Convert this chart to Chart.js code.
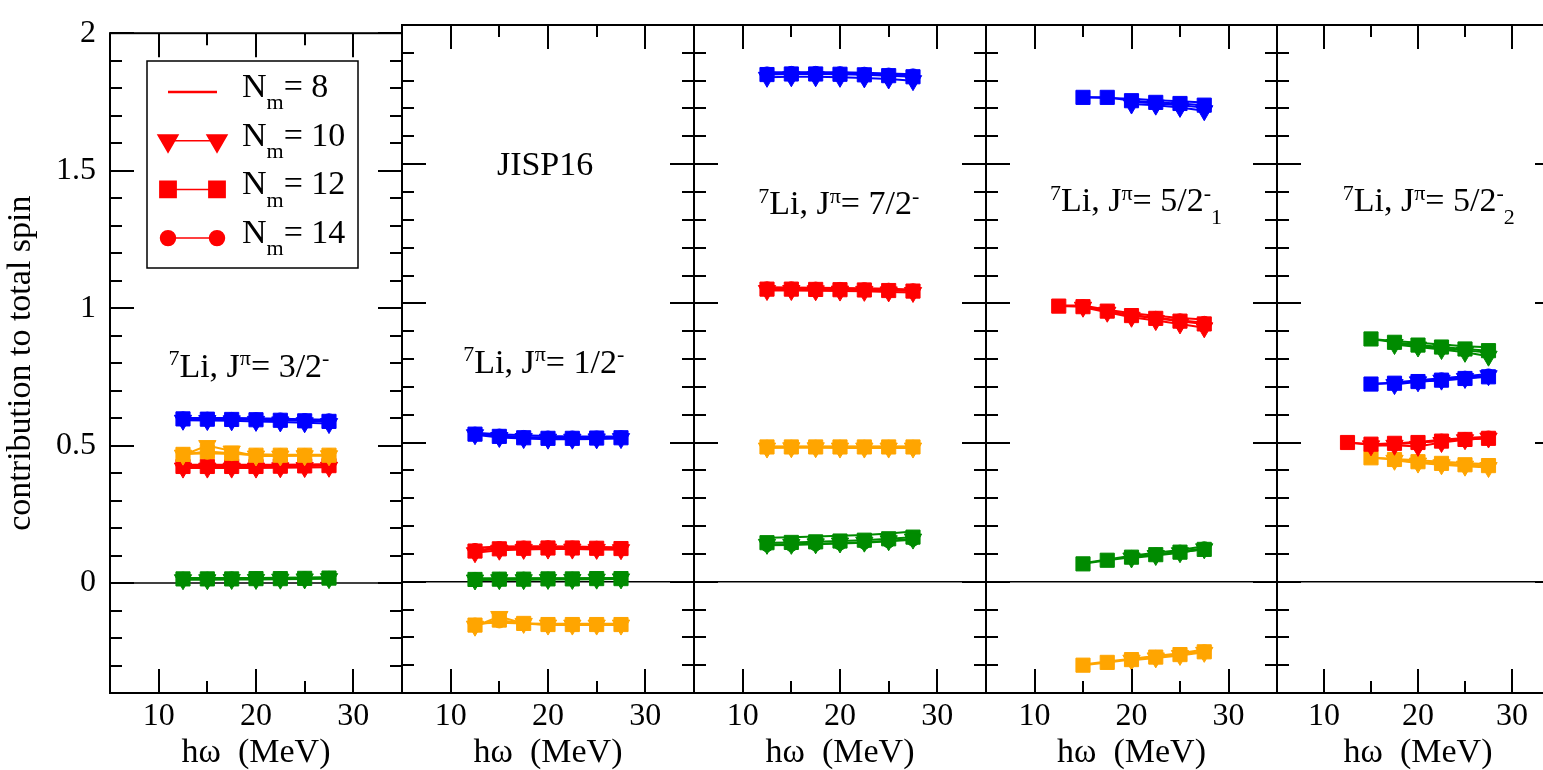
<!DOCTYPE html>
<html>
<head>
<meta charset="utf-8">
<script src="https://cdn.jsdelivr.net/npm/chart.js@4.4.0/dist/chart.umd.min.js"></script>
<style>
  html, body { margin: 0; padding: 0; background: #fff; overflow: hidden; }
  #wrap { position: relative; width: 1543px; height: 770px; overflow: hidden; }
  #wrap canvas { position: absolute; top: 0; }
</style>
</head>
<body>
<div id="wrap"></div>
<script>
// hbar*omega values (MeV) and basis truncations
const hw = [12.5, 15, 17.5, 20, 22.5, 25, 27.5];
const nmaxList = [8, 10, 12, 14];

const xTicks = [10, 20, 30];
const xMinorTicks = [5, 15, 25, 35];
const yTicks = [0, 0.5, 1, 1.5, 2];
const yMinorTicks = [-0.3, -0.2, -0.1, 0.1, 0.2, 0.3, 0.4, 0.6, 0.7, 0.8, 0.9,
                     1.1, 1.2, 1.3, 1.4, 1.6, 1.7, 1.8, 1.9];

// each array: rows = Nm 8, 10, 12, 14 ; columns = hw
// 7Li 3/2-
const p1Blue = [
  [0.600, 0.600, 0.600, 0.599, 0.598, 0.596, 0.594],
  [0.592, 0.591, 0.590, 0.588, 0.586, 0.583, 0.580],
  [0.597, 0.596, 0.595, 0.594, 0.592, 0.590, 0.588],
  [0.599, 0.598, 0.597, 0.596, 0.595, 0.593, 0.592]
];
const p1Red = [
  [0.430, 0.430, 0.430, 0.430, 0.430, 0.431, 0.432],
  [0.418, 0.418, 0.418, 0.418, 0.419, 0.420, 0.421],
  [0.424, 0.424, 0.424, 0.424, 0.425, 0.426, 0.427],
  [0.427, 0.427, 0.427, 0.427, 0.428, 0.429, 0.430]
];
const p1Orange = [
  [0.470, 0.472, 0.470, 0.468, 0.467, 0.467, 0.467],
  [0.465, 0.500, 0.480, 0.462, 0.462, 0.463, 0.463],
  [0.468, 0.478, 0.472, 0.465, 0.465, 0.465, 0.465],
  [0.469, 0.474, 0.470, 0.466, 0.466, 0.466, 0.466]
];
const p1Green = [
  [0.018, 0.018, 0.018, 0.018, 0.019, 0.020, 0.021],
  [0.012, 0.012, 0.013, 0.013, 0.014, 0.015, 0.016],
  [0.015, 0.015, 0.015, 0.016, 0.016, 0.017, 0.018],
  [0.016, 0.016, 0.017, 0.017, 0.018, 0.018, 0.019]
];

// 7Li 1/2-
const p2Blue = [
  [0.535, 0.530, 0.526, 0.523, 0.522, 0.522, 0.522],
  [0.528, 0.518, 0.514, 0.512, 0.512, 0.513, 0.514],
  [0.530, 0.522, 0.517, 0.515, 0.515, 0.516, 0.517],
  [0.532, 0.525, 0.520, 0.518, 0.518, 0.518, 0.519]
];
const p2Red = [
  [0.122, 0.126, 0.127, 0.127, 0.126, 0.125, 0.124],
  [0.104, 0.113, 0.116, 0.117, 0.117, 0.116, 0.115],
  [0.110, 0.118, 0.120, 0.121, 0.121, 0.120, 0.119],
  [0.114, 0.121, 0.123, 0.124, 0.123, 0.122, 0.121]
];
const p2Orange = [
  [-0.150, -0.148, -0.150, -0.151, -0.151, -0.151, -0.151],
  [-0.160, -0.125, -0.150, -0.156, -0.156, -0.156, -0.156],
  [-0.156, -0.138, -0.150, -0.154, -0.154, -0.154, -0.154],
  [-0.154, -0.143, -0.151, -0.153, -0.153, -0.153, -0.153]
];
const p2Green = [
  [0.012, 0.012, 0.012, 0.012, 0.012, 0.012, 0.013],
  [0.006, 0.007, 0.007, 0.008, 0.008, 0.009, 0.010],
  [0.008, 0.009, 0.009, 0.010, 0.010, 0.011, 0.011],
  [0.010, 0.010, 0.011, 0.011, 0.011, 0.012, 0.012]
];

// 7Li 7/2-
const p3Blue = [
  [1.830, 1.830, 1.830, 1.830, 1.828, 1.826, 1.823],
  [1.812, 1.814, 1.814, 1.812, 1.810, 1.806, 1.800],
  [1.822, 1.824, 1.824, 1.823, 1.821, 1.818, 1.814],
  [1.826, 1.828, 1.828, 1.827, 1.825, 1.822, 1.819]
];
const p3Red = [
  [1.058, 1.057, 1.056, 1.055, 1.054, 1.052, 1.050],
  [1.046, 1.046, 1.045, 1.044, 1.043, 1.041, 1.039],
  [1.051, 1.051, 1.050, 1.049, 1.048, 1.046, 1.044],
  [1.054, 1.054, 1.053, 1.052, 1.051, 1.049, 1.047]
];
const p3Orange = [
  [0.486, 0.486, 0.486, 0.486, 0.486, 0.486, 0.486],
  [0.480, 0.481, 0.481, 0.480, 0.480, 0.480, 0.480],
  [0.484, 0.484, 0.484, 0.484, 0.484, 0.484, 0.484],
  [0.485, 0.485, 0.485, 0.485, 0.485, 0.485, 0.485]
];
const p3Green = [
  [0.158, 0.160, 0.162, 0.165, 0.168, 0.173, 0.180],
  [0.134, 0.134, 0.136, 0.139, 0.142, 0.147, 0.153],
  [0.140, 0.141, 0.143, 0.146, 0.149, 0.154, 0.160],
  [0.131, 0.132, 0.134, 0.137, 0.140, 0.145, 0.151]
];

// 7Li 5/2-_1
const p4Blue = [
  [null, 1.740, 1.738, 1.735, 1.730, 1.726, 1.722],
  [null, null, null, 1.716, 1.712, 1.704, 1.692],
  [null, 1.740, 1.740, 1.728, 1.722, 1.718, 1.712],
  [null, null, null, 1.724, 1.718, 1.712, 1.704]
];
const p4Red = [
  [0.992, 0.992, 0.977, 0.964, 0.955, 0.947, 0.942],
  [null, 0.986, 0.968, 0.950, 0.938, 0.926, 0.912],
  [0.990, 0.988, 0.972, 0.956, 0.946, 0.936, 0.926],
  [null, 0.990, 0.972, 0.958, 0.948, 0.939, 0.930]
];
const p4Orange = [
  [null, -0.298, -0.287, -0.277, -0.267, -0.257, -0.244],
  [null, null, null, -0.282, -0.274, -0.265, -0.254],
  [null, -0.300, -0.290, -0.280, -0.271, -0.262, -0.252],
  [null, null, null, -0.279, -0.270, -0.261, -0.250]
];
const p4Green = [
  [null, 0.066, 0.080, 0.093, 0.104, 0.114, 0.127],
  [null, null, null, 0.085, 0.094, 0.104, 0.118],
  [null, 0.064, 0.077, 0.088, 0.097, 0.106, 0.116],
  [null, null, null, 0.089, 0.098, 0.108, 0.120]
];

// 7Li 5/2-_2
const p5Blue = [
  [null, 0.710, 0.716, 0.724, 0.731, 0.738, 0.746],
  [null, null, 0.708, 0.718, 0.724, 0.730, 0.740],
  [null, 0.710, 0.713, 0.719, 0.724, 0.730, 0.736],
  [null, null, 0.711, 0.721, 0.727, 0.733, 0.741]
];
const p5Red = [
  [0.500, 0.492, 0.496, 0.502, 0.510, 0.516, 0.521],
  [null, 0.488, 0.490, 0.486, 0.500, 0.510, 0.516],
  [0.500, 0.494, 0.497, 0.500, 0.505, 0.511, 0.515],
  [null, 0.491, 0.494, 0.499, 0.507, 0.513, 0.518]
];
const p5Orange = [
  [null, 0.446, 0.441, 0.436, 0.431, 0.426, 0.422],
  [null, null, 0.436, 0.426, 0.420, 0.415, 0.410],
  [null, 0.445, 0.439, 0.431, 0.425, 0.420, 0.417],
  [null, null, 0.437, 0.429, 0.423, 0.418, 0.414]
];
const p5Green = [
  [null, 0.872, 0.865, 0.858, 0.852, 0.846, 0.842],
  [null, null, 0.852, 0.843, 0.834, 0.824, 0.810],
  [null, 0.872, 0.860, 0.850, 0.843, 0.836, 0.830],
  [null, null, 0.856, 0.847, 0.839, 0.831, 0.823]
];

const stateLabels = [
  [{t: '7', sup: 1}, {t: 'Li, J'}, {t: 'π', sup: 1}, {t: '= 3/2'}, {t: '-', sup: 1}],
  [{t: '7', sup: 1}, {t: 'Li, J'}, {t: 'π', sup: 1}, {t: '= 1/2'}, {t: '-', sup: 1}],
  [{t: '7', sup: 1}, {t: 'Li, J'}, {t: 'π', sup: 1}, {t: '= 7/2'}, {t: '-', sup: 1}],
  [{t: '7', sup: 1}, {t: 'Li, J'}, {t: 'π', sup: 1}, {t: '= 5/2'}, {t: '-', sup: 1}, {t: '1', sub: 1}],
  [{t: '7', sup: 1}, {t: 'Li, J'}, {t: 'π', sup: 1}, {t: '= 5/2'}, {t: '-', sup: 1}, {t: '2', sub: 1}]
];

const COLORS = {blue: '#0000ff', red: '#ff0000', orange: '#ffa500', green: '#008b00'};
const FONT = "'Liberation Serif', 'Times New Roman', serif";

const panels = [
  {sets: [['blue', p1Blue], ['orange', p1Orange], ['red', p1Red], ['green', p1Green]], label: [11.0, 0.75]},
  {sets: [['blue', p2Blue], ['red', p2Red], ['green', p2Green], ['orange', p2Orange]], label: [11.3, 0.75]},
  {sets: [['blue', p3Blue], ['red', p3Red], ['orange', p3Orange], ['green', p3Green]], label: [11.6, 1.32]},
  {sets: [['blue', p4Blue], ['red', p4Red], ['green', p4Green], ['orange', p4Orange]], label: [11.6, 1.33]},
  {sets: [['green', p5Green], ['blue', p5Blue], ['red', p5Red], ['orange', p5Orange]], label: [12.0, 1.33]}
];

// layout of the five frames (px)
const panelLeft = [110, 402, 694, 986, 1277];
const panelWidth = [292, 292, 292, 291, 282];

// marker per Nm: line only, down triangle, square, circle
const markStyle = ['circle', 'triangle', 'rect', 'circle'];
const markRadius = [0, 10, 10, 6.5];
const markRotation = [0, 180, 0, 0];
const drawOrder = [3, 0, 1, 2];

function richText(ctx, parts, x, y, size, align) {
  const fontOf = p => ((p.sup || p.sub) ? Math.round(size * 0.65) : size) + 'px ' + FONT;
  const widths = parts.map(p => { ctx.font = fontOf(p); return ctx.measureText(p.t).width; });
  let cx = align === 'center' ? x - widths.reduce((a, b) => a + b, 0) / 2 : x;
  parts.forEach((p, i) => {
    ctx.font = fontOf(p);
    const dy = p.sup ? -0.34 * size : p.sub ? 0.36 * size : 0;
    ctx.fillText(p.t, cx, y + dy);
    cx += widths[i];
  });
}

const framePlugin = {
  id: 'frame',
  beforeDatasetsDraw(chart) {
    const {ctx, chartArea: a, scales: {y}} = chart;
    const y0 = y.getPixelForValue(0);
    ctx.save();
    ctx.strokeStyle = '#000';
    ctx.lineWidth = 1.5;
    ctx.beginPath();
    ctx.moveTo(a.left, y0);
    ctx.lineTo(a.right, y0);
    ctx.stroke();
    ctx.restore();
  },
  afterDatasetsDraw(chart) {
    const {ctx, chartArea: a, scales: {x, y}} = chart;
    ctx.save();
    ctx.strokeStyle = '#000';
    ctx.lineWidth = 2;
    ctx.strokeRect(a.left, a.top, a.right - a.left, a.bottom - a.top);
    ctx.beginPath();
    const xt = (v, len) => {
      const px = Math.round(x.getPixelForValue(v));
      ctx.moveTo(px, a.bottom); ctx.lineTo(px, a.bottom - len);
      ctx.moveTo(px, a.top); ctx.lineTo(px, a.top + len);
    };
    const yt = (v, len) => {
      const py = Math.round(y.getPixelForValue(v));
      ctx.moveTo(a.left, py); ctx.lineTo(a.left + len, py);
      ctx.moveTo(a.right, py); ctx.lineTo(a.right - len, py);
    };
    xTicks.forEach(v => xt(v, 24));
    xMinorTicks.forEach(v => xt(v, 12));
    yTicks.forEach(v => yt(v, 24));
    yMinorTicks.forEach(v => yt(v, 12));
    ctx.stroke();
    ctx.restore();
  },
  afterDraw(chart) {
    const {ctx, scales: {x, y}} = chart;
    const o = chart.options.plugins.frame;
    ctx.save();
    ctx.fillStyle = '#000';
    ctx.textBaseline = 'alphabetic';
    richText(ctx, o.label, x.getPixelForValue(o.labelAt[0]), y.getPixelForValue(o.labelAt[1]), 34, 'left');
    if (o.title) {
      richText(ctx, [{t: o.title}], x.getPixelForValue(19.7), y.getPixelForValue(1.46), 34, 'center');
    }
    if (o.legend) drawLegend(ctx);
    ctx.restore();
  }
};

function drawLegend(ctx) {
  const box = {l: 147, t: 61, r: 358, b: 268};
  ctx.lineWidth = 1.5;
  ctx.strokeStyle = '#000';
  ctx.strokeRect(box.l, box.t, box.r - box.l, box.b - box.t);
  nmaxList.forEach((n, k) => {
    const yy = 92 + k * 48.7;
    ctx.strokeStyle = COLORS.red;
    ctx.fillStyle = COLORS.red;
    ctx.lineWidth = k === 0 ? 2.5 : 1.5;
    ctx.beginPath();
    ctx.moveTo(k === 0 ? 168 : 175, yy);
    ctx.lineTo(k === 0 ? 217 : 210, yy);
    ctx.stroke();
    if (markRadius[k] > 0) {
      const opt = {pointStyle: markStyle[k], radius: markRadius[k] * 1.15, rotation: markRotation[k], borderWidth: 1};
      Chart.helpers.drawPoint(ctx, opt, 168, yy);
      Chart.helpers.drawPoint(ctx, opt, 217, yy);
    }
    ctx.fillStyle = '#000';
    richText(ctx, [{t: 'N'}, {t: 'm', sub: 1}, {t: '= ' + n}], 242, yy + 5, 34, 'left');
  });
}

const wrap = document.getElementById('wrap');

panels.forEach((p, i) => {
  const leftPad = i === 0 ? 110 : 4;
  const width = leftPad + panelWidth[i] + 4;
  const c = document.createElement('canvas');
  c.width = width;
  c.height = 770;
  c.style.left = (panelLeft[i] - leftPad) + 'px';
  c.style.width = width + 'px';
  c.style.height = '770px';
  wrap.appendChild(c);

  const datasets = [];
  p.sets.forEach(([col, rows]) => {
    drawOrder.forEach(k => {
      datasets.push({
        label: col + ' Nm=' + nmaxList[k],
        data: hw.map((h, j) => ({x: h, y: rows[k][j]})),
        borderColor: COLORS[col],
        backgroundColor: COLORS[col],
        borderWidth: 2,
        pointStyle: markStyle[k],
        pointRadius: markRadius[k],
        pointRotation: markRotation[k],
        pointBorderWidth: 1,
        pointBorderColor: COLORS[col],
        pointBackgroundColor: COLORS[col],
        spanGaps: false,
        tension: 0
      });
    });
  });

  new Chart(c, {
    type: 'line',
    data: {datasets},
    options: {
      responsive: false,
      animation: false,
      devicePixelRatio: 1,
      layout: {autoPadding: false, padding: {left: i === 0 ? 0 : 4, right: 4, top: 25, bottom: 0}},
      plugins: {
        legend: {display: false},
        tooltip: {enabled: false},
        frame: {label: stateLabels[i], labelAt: p.label, title: i === 1 ? 'JISP16' : null, legend: i === 0}
      },
      scales: {
        x: {
          type: 'linear',
          min: 5,
          max: 35,
          grid: {display: false, drawTicks: false},
          border: {display: false},
          afterBuildTicks: s => { s.ticks = xTicks.map(v => ({value: v})); },
          afterFit: s => { s.height = 77; },
          ticks: {
            color: '#000',
            font: {family: FONT, size: 32},
            padding: 4,
            maxRotation: 0,
            callback: v => String(v)
          },
          title: {
            display: true,
            text: 'hω  (MeV)',
            color: '#000',
            font: {family: FONT, size: 34, lineHeight: 1},
            padding: {top: 0, bottom: 0}
          }
        },
        y: {
          type: 'linear',
          display: i === 0,
          min: -0.4,
          max: 2,
          grid: {display: false, drawTicks: false},
          border: {display: false},
          afterBuildTicks: s => { s.ticks = yTicks.map(v => ({value: v})); },
          afterFit: s => { s.width = i === 0 ? 110 : 0; },
          ticks: {
            color: '#000',
            font: {family: FONT, size: 32},
            padding: 14,
            callback: v => String(v)
          },
          title: {
            display: true,
            text: 'contribution to total spin',
            color: '#000',
            font: {family: FONT, size: 34, lineHeight: 1},
            padding: {top: 4, bottom: 0}
          }
        }
      }
    },
    plugins: [framePlugin]
  });
});
</script>
</body>
</html>
